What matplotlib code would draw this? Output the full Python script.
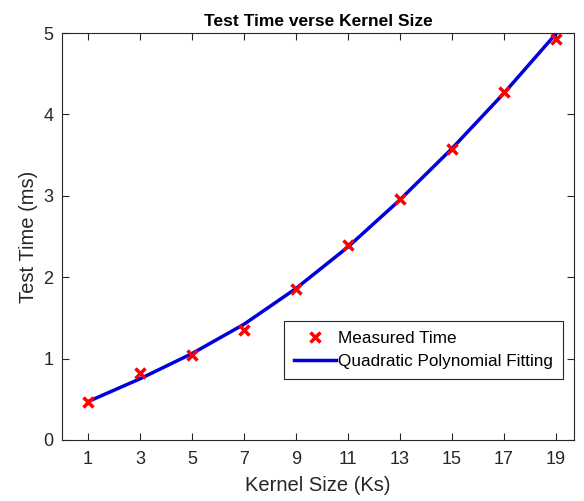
import numpy as np
import matplotlib.pyplot as plt

plt.rcParams['font.family'] = ['Liberation Sans', 'DejaVu Sans']

# kernel sizes and measured test times (ms)
kernel_size = [1, 3, 5, 7, 9, 11, 13, 15, 17, 19]
measured_time = [0.46, 0.82, 1.04, 1.35, 1.85, 2.39, 2.96, 3.58, 4.27, 4.93]
# quadratic fit evaluated at the kernel sizes
fit_time = [0.47, 0.75, 1.06, 1.42, 1.86, 2.37, 2.95, 3.58, 4.26, 4.99]

x_ticks = [1, 3, 5, 7, 9, 11, 13, 15, 17, 19]
y_ticks = [0, 1, 2, 3, 4, 5]

dark = '#262626'

fig = plt.figure(figsize=(5.84, 5.01), dpi=100)
ax = fig.add_axes([0.106, 0.122, 0.877, 0.812])

ax.plot(kernel_size, measured_time, 'x', color='red', markersize=7, markeredgewidth=2.5,
        label='Measured Time', zorder=3)
ax.plot(kernel_size, fit_time, '-', color='#0000dd', linewidth=2.5,
        label='Quadratic Polynomial Fitting', zorder=2)

ax.set_xlim(0, 19.7)
ax.set_ylim(0, 5)
ax.set_xticks(x_ticks)
ax.set_yticks(y_ticks)
ax.tick_params(direction='in', top=True, right=True, labelsize=13, colors=dark,
               length=5, width=0.8, pad=6)
ax.tick_params(axis='x', pad=8)
for s in ax.spines.values():
    s.set_color(dark)
    s.set_linewidth(0.8)

ax.set_xlabel('Kernel Size (Ks)', fontsize=14.5, color=dark, labelpad=6)
ax.set_ylabel('Test Time (ms)', fontsize=14.5, color=dark, labelpad=4)
ax.set_title('Test Time verse Kernel Size', fontsize=12.5, fontweight='bold', pad=5)

leg = ax.legend(loc='lower right', bbox_to_anchor=(0.979, 0.15), fontsize=12.3,
                fancybox=False, edgecolor=dark, framealpha=1, handlelength=2.5,
                borderpad=0.6, labelspacing=0.45, handletextpad=0.1, borderaxespad=0)
leg.get_frame().set_linewidth(0.8)

fig.savefig('out.png', dpi=100)
